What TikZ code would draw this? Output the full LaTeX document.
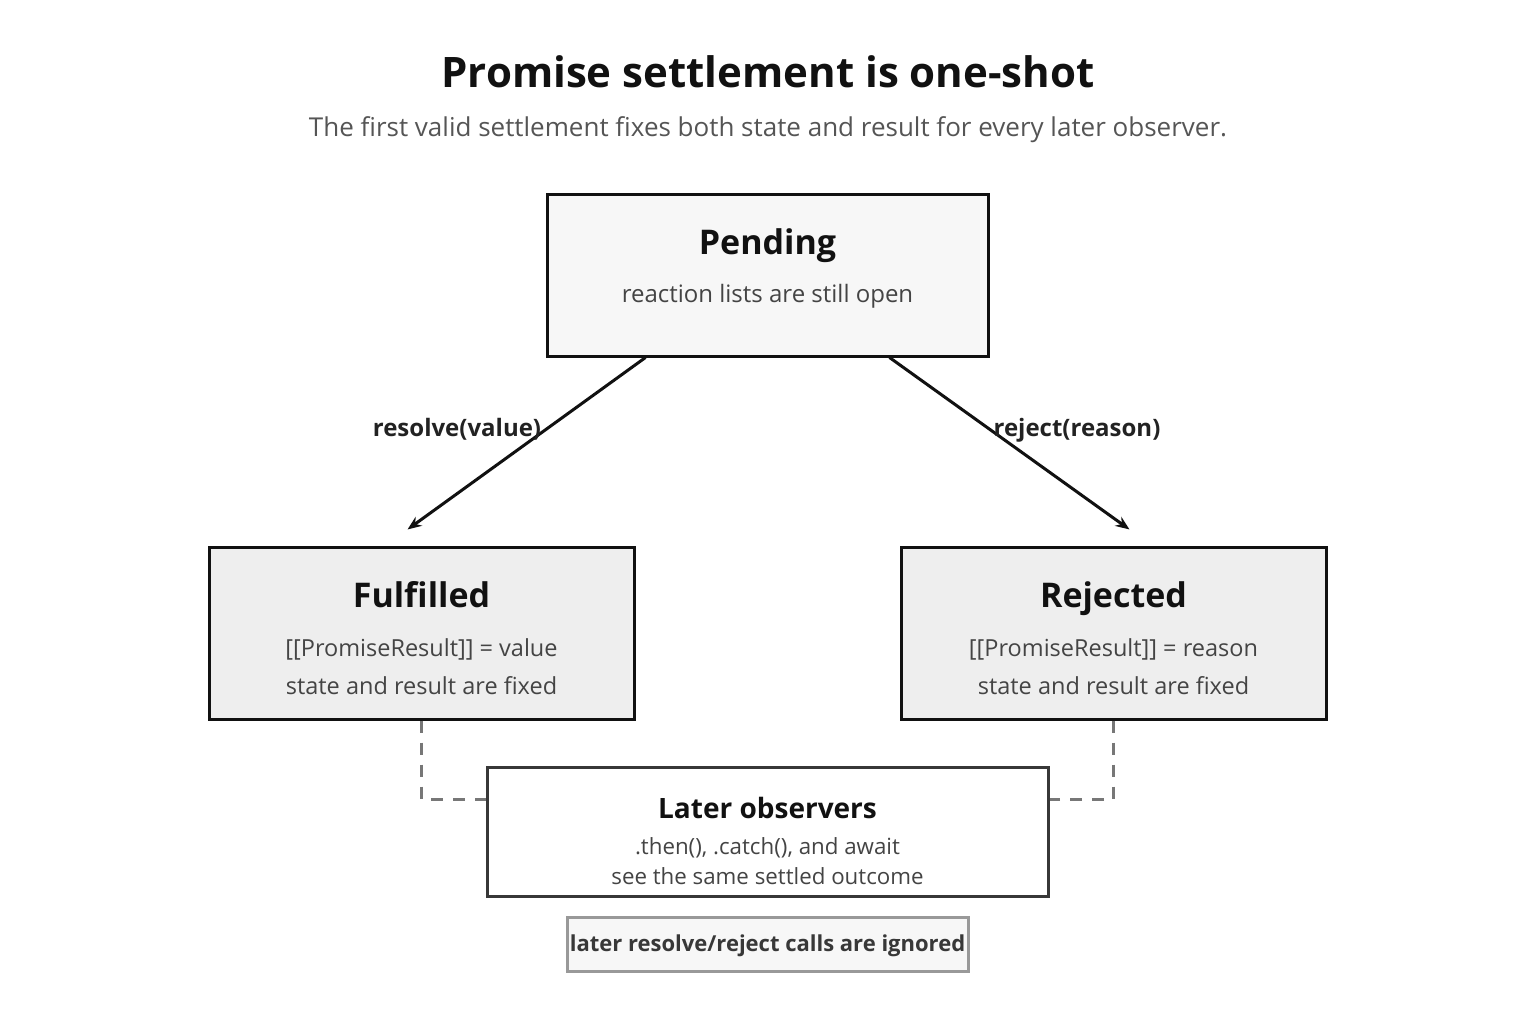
\documentclass[tikz,border=0pt]{standalone}
\usepackage{fontspec}
\setmainfont{Open Sans}
\usetikzlibrary{arrows.meta, positioning, calc}
\definecolor{inkdark}{HTML}{111111}
\definecolor{inksub}{HTML}{555555}
\definecolor{inkbody}{HTML}{444444}
\definecolor{inklbl}{HTML}{222222}
\definecolor{fillpend}{HTML}{F7F7F7}
\definecolor{fillset}{HTML}{EEEEEE}
\definecolor{dashgray}{HTML}{777777}
\definecolor{notegray}{HTML}{999999}

\begin{document}
\begin{tikzpicture}[
    x=1pt, y=-1pt,
    box/.style={rectangle, draw=inkdark, line width=3pt, inner sep=0pt},
    ttl/.style={font=\fontsize{34}{40}\selectfont\bfseries, text=inkdark, inner sep=0pt, text height=0.72em, text depth=0.22em},
    body/.style={font=\fontsize{23.5}{28}\selectfont, text=inkbody, inner sep=0pt, text height=0.72em, text depth=0.22em},
    lbl/.style={font=\fontsize{24}{28}\selectfont\bfseries, text=inklbl, inner sep=0pt, text height=0.72em, text depth=0.22em},
    arr/.style={-{Stealth[length=14pt, width=11pt]}, line width=3pt, draw=inkdark},
    tie/.style={draw=dashgray, line width=3pt, dash pattern=on 12pt off 10pt}
]
    \useasboundingbox (0,0) rectangle (1536,1024);
    % heading
    \node[font=\fontsize{42}{50}\selectfont\bfseries, text=inkdark, inner sep=0pt] (title) at (768,72) {Promise settlement is one-shot};
    \node[font=\fontsize{26}{30}\selectfont, text=inksub, inner sep=0pt] (subtitle) at (768,130) {The first valid settlement fixes both state and result for every later observer.};

    % states
    \node[box, fill=fillpend, minimum width=441pt, minimum height=161pt] (pending) at (767.5,275.5) {};
    \node[ttl] (pendingT) at (767.5,252) {Pending};
    \node[body, font=\fontsize{24}{28}\selectfont] (pendingB) at (767.5,300) {reaction lists are still open};

    \node[box, fill=fillset, minimum width=425pt, minimum height=172pt] (fulfilled) at (421.5,633) {};
    \node[ttl] (fulfilledT) at (421.5,605) {Fulfilled};
    \node[body] (fulfilledB) at (421.5,654) {[[PromiseResult]] = value};
    \node[body] (fulfilledC) at (421.5,691.5) {state and result are fixed};

    \node[box, fill=fillset, minimum width=425pt, minimum height=172pt] (rejected) at (1113.5,633) {};
    \node[ttl] (rejectedT) at (1113.5,605) {Rejected};
    \node[body] (rejectedB) at (1113.5,654) {[[PromiseResult]] = reason};
    \node[body] (rejectedC) at (1113.5,691.5) {state and result are fixed};

    % transitions
    \draw[arr] ([xshift=100pt]pending.south west) -- ([xshift=-14pt, yshift=16pt]fulfilled.north);
    \draw[arr] ([xshift=-100pt]pending.south east) -- ([xshift=16pt, yshift=16pt]rejected.north);
    \node[lbl] (resolveL) at (457,434) {resolve(value)};
    \node[lbl] (rejectL) at (1077,434) {reject(reason)};

    % observers
    \node[box, draw=inklbl!90, fill=white, minimum width=561pt, minimum height=129pt] (later) at (767.5,831.5) {};
    \node[ttl, font=\fontsize{28}{32}\selectfont\bfseries] (laterT) at (767.5,816) {Later observers};
    \node[body, font=\fontsize{22.3}{26}\selectfont] (laterB) at (767.5,852) {.then(), .catch(), and await};
    \node[body, font=\fontsize{22.3}{26}\selectfont] (laterC) at (767.5,882) {see the same settled outcome};
    \draw[tie] (fulfilled.south) |- ([yshift=32.5pt]later.west);
    \draw[tie] (rejected.south) |- ([yshift=32.5pt]later.east);

    \node[box, draw=notegray, fill=fillpend, minimum width=401pt, minimum height=54pt,
          font=\fontsize{22}{26}\selectfont\bfseries, text=inklbl!90, text height=1.72em, text depth=0.22em] (ignored) at (767.5,944) {later resolve/reject calls are ignored};
\end{tikzpicture}
\end{document}
